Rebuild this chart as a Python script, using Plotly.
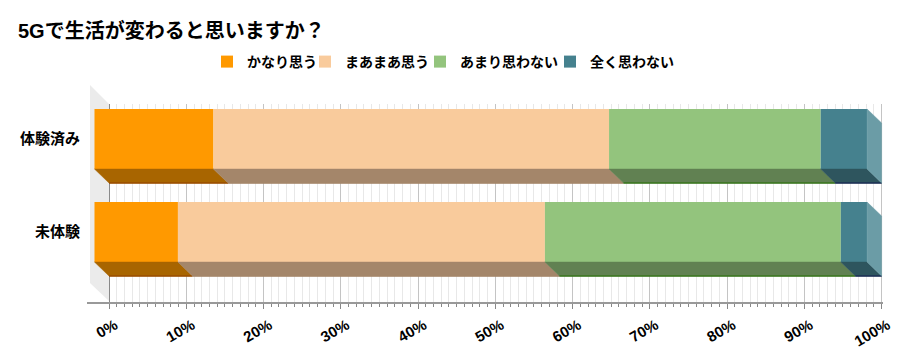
import plotly.graph_objects as go

# ---------------- data ----------------
title_text = "5Gで生活が変わると思いますか？"
categories = ["体験済み", "未体験"]
series_names = ["かなり思う", "まあまあ思う", "あまり思わない", "全く思わない"]
kanari = [15.4, 10.8]
maamaa = [51.2, 47.5]
amari = [27.4, 38.3]
mattaku = [6.0, 3.4]
tick_values = [0, 10, 20, 30, 40, 50, 60, 70, 80, 90, 100]
tick_labels = ["0%", "10%", "20%", "30%", "40%", "50%", "60%", "70%", "80%", "90%", "100%"]

series_values = [kanari, maamaa, amari, mattaku]

# ---------------- style / geometry ----------------
front_colors = ["#FF9900", "#F9CB9C", "#93C47D", "#45818E"]
floor_colors = ["#A86500", "#A4866A", "#618152", "#2E555E"]
edge_colors = ["#9A4C00", "#A4866A", "#38761D", "#1C2E55"]
side_color = "#6B9CA6"
FONT = "Liberation Sans, Noto Sans CJK JP, sans-serif"

# the page body adds an 8px offset; figure is sized/positioned to compensate
OFF = 8
W, H = 900 - OFF, 361 - OFF
PLOT_L, PLOT_R, PLOT_T, PLOT_B = 87 - OFF, 883 - OFF, 85 - OFF, 302 - OFF
legend_left_px = [207, 305, 420, 550]   # page x of each legend entry box
LEGEND_Y_PX = 62

cat_pos = [2, 1]          # back-plane centre of each category row
DX = 1.88                 # 3D depth along x (axis units)
DY = 0.15                 # 3D depth along y (axis units)
HALF = 0.3226             # half bar thickness
X_RANGE = [-2.85, 100.18]
Y_RANGE = [0.398, 2.731]
WALL_TOP = 2.527
WALL_X = -2.46

fig = go.Figure()

# cumulative starts
starts = []
acc = [0.0] * len(categories)
for vals in series_values:
    starts.append(list(acc))
    acc = [a + v for a, v in zip(acc, vals)]

# floor (bottom) faces of each segment
for j, vals in enumerate(series_values):
    xs, ys = [], []
    ex, ey = [], []
    for i, p in enumerate(cat_pos):
        s = starts[j][i]
        e = s + vals[i]
        fb = p + DY - HALF
        bb = p - HALF
        xs += [s - DX, e - DX, e, s, s - DX, None]
        ys += [fb, fb, bb, bb, fb, None]
        ex += [s, e, None]
        ey += [bb, bb, None]
    fig.add_trace(go.Scatter(x=xs, y=ys, fill="toself", fillcolor=floor_colors[j],
                             mode="lines", line=dict(width=0.5, color=floor_colors[j]),
                             showlegend=False, hoverinfo="skip"))
    fig.add_trace(go.Scatter(x=ex, y=ey, mode="lines",
                             line=dict(width=1.5, color=edge_colors[j]),
                             showlegend=False, hoverinfo="skip"))

# right end faces
xs, ys = [], []
for i, p in enumerate(cat_pos):
    e = acc[i]
    xs += [e - DX, e, e, e - DX, e - DX, None]
    ys += [p + DY + HALF, p + HALF, p - HALF, p + DY - HALF, p + DY + HALF, None]
fig.add_trace(go.Scatter(x=xs, y=ys, fill="toself", fillcolor=side_color,
                         mode="lines", line=dict(width=0.5, color=side_color),
                         showlegend=False, hoverinfo="skip"))

# front faces
legend_ids = ["legend", "legend2", "legend3", "legend4"]
for j, vals in enumerate(series_values):
    fig.add_trace(go.Bar(
        name=series_names[j], orientation="h",
        x=vals, y=[p + DY for p in cat_pos],
        base=[s - DX for s in starts[j]],
        width=2 * HALF,
        marker=dict(color=front_colors[j], line=dict(width=0)),
        legend=legend_ids[j],
    ))

legend_layouts = {}
for j, lid in enumerate(legend_ids):
    legend_layouts[lid] = dict(
        orientation="h", x=(legend_left_px[j] - OFF) / W, xanchor="left", xref="container",
        y=1 - (LEGEND_Y_PX - OFF) / H, yanchor="middle", yref="container",
        font=dict(size=14, family=FONT, weight="bold"), bgcolor="rgba(0,0,0,0)",
        itemwidth=30,
    )

fig.update_layout(
    width=W, height=H,
    margin=dict(l=PLOT_L, r=W - PLOT_R, t=PLOT_T, b=H - PLOT_B, autoexpand=False),
    paper_bgcolor="white", plot_bgcolor="white",
    barmode="overlay",
    font=dict(family=FONT, color="#000000"),
    title=dict(text=title_text, x=(18 - OFF) / W, xanchor="left", xref="container",
               y=1 - (31 - OFF) / H, yanchor="middle", yref="container",
               font=dict(size=20, family=FONT, weight="bold", color="#000")),
    showlegend=True,
    xaxis=dict(range=X_RANGE, tickmode="array", tickvals=tick_values, ticktext=tick_labels,
               tickangle=-30, tickfont=dict(size=15, family=FONT, weight="bold"),
               ticklabelshift=6, ticklabelstandoff=2,
               automargin=False,
               showgrid=True, gridcolor="#C4C4C4", gridwidth=1,
               ticks="outside", ticklen=5, tickcolor="#888", tickwidth=1,
               minor=dict(tickmode="array", tickvals=[v for v in range(1, 100) if v % 10],
                          showgrid=True, gridcolor="#E8E8E8", gridwidth=1,
                          ticks="outside", ticklen=3, tickcolor="#888"),
               showline=True, linecolor="#999", linewidth=1.5,
               zeroline=True, zerolinecolor="#888", zerolinewidth=1,
               fixedrange=True),
    yaxis=dict(range=Y_RANGE, tickmode="array", tickvals=[p + DY for p in cat_pos],
               ticktext=categories, tickfont=dict(size=15, family=FONT, weight="bold"),
               automargin=False, ticklabelstandoff=6,
               showgrid=False, zeroline=False, showline=False, ticks="",
               fixedrange=True),
    shapes=[
        dict(type="rect", xref="x", yref="y", x0=-0.1, x1=X_RANGE[1] + 2,
             y0=WALL_TOP, y1=Y_RANGE[1] + 1, fillcolor="white",
             line=dict(width=0), layer="between"),
        dict(type="path", xref="x", yref="y",
             path=f"M {WALL_X},{Y_RANGE[1]} L 0,{WALL_TOP} L 0,0.409 L {WALL_X},0.602 Z",
             fillcolor="#EBEBEB", line=dict(width=0), layer="between"),
    ],
    **legend_layouts,
)

fig.write_html("out.html")
